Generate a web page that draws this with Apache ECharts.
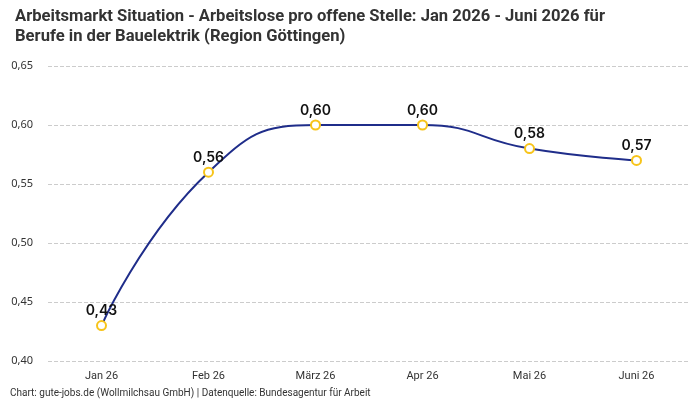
<!DOCTYPE html>
<html>
<head>
<meta charset="utf-8">
<script src="https://cdn.jsdelivr.net/npm/echarts@6/dist/echarts.min.js"></script>
<style>
  html, body { margin: 0; padding: 0; background: #fff; }
  #chart { width: 700px; height: 400px; }
</style>
</head>
<body>
<div id="chart"></div>
<script>
// Daten
const months = ['Jan 26', 'Feb 26', 'März 26', 'Apr 26', 'Mai 26', 'Juni 26']
const ratio = [0.43, 0.56, 0.60, 0.60, 0.58, 0.57]

const fmt = v => v.toFixed(2).replace('.', ',')

const myChart = echarts.init(document.getElementById('chart'))

const option = {
  backgroundColor: '#fff',
  title: {
    text: 'Arbeitsmarkt Situation - Arbeitslose pro offene Stelle: Jan 2026 - Juni 2026 für\nBerufe in der Bauelektrik (Region Göttingen)',
    left: 10,
    top: 2,
    textStyle: {
      fontFamily: 'Roboto',
      fontSize: 16.6,
      fontWeight: 'bold',
      color: '#333',
      lineHeight: 20
    }
  },
  graphic: [{
    type: 'text',
    left: 10,
    top: 388,
    style: {
      text: 'Chart: gute-jobs.de (Wollmilchsau GmbH) | Datenquelle: Bundesagentur für Arbeit',
      font: '10px "Liberation Sans Narrow", Roboto',
      fill: '#333'
    }
  }],
  grid: {
    left: 48,
    right: 10,
    top: 66,
    bottom: 39
  },
  xAxis: {
    type: 'category',
    data: months,
    axisLine: { show: false },
    axisTick: { show: false },
    axisLabel: {
      color: '#333',
      fontSize: 11,
      fontFamily: 'Roboto',
      margin: 10
    }
  },
  yAxis: {
    type: 'value',
    min: 0.40,
    max: 0.65,
    interval: 0.05,
    axisLine: { show: false },
    axisTick: { show: false },
    axisLabel: {
      color: '#333',
      fontSize: 11,
      fontFamily: 'Noto Sans',
      margin: 15,
      formatter: v => fmt(v)
    },
    splitLine: {
      lineStyle: { color: '#ccc', type: 'dashed' }
    }
  },
  series: [{
    type: 'line',
    data: ratio,
    smooth: 0.5,
    symbol: 'circle',
    symbolSize: 9,
    lineStyle: { color: '#1f2d8a', width: 2 },
    itemStyle: { color: '#fff', borderColor: '#f7c41a', borderWidth: 2 },
    label: {
      show: true,
      position: 'top',
      distance: 2,
      color: '#111',
      fontSize: 14,
      fontWeight: 600,
      fontFamily: 'Inter',
      formatter: p => fmt(p.value)
    }
  }]
}

myChart.setOption(option)
window.addEventListener('resize', () => {
  myChart.resize()
})
</script>
</body>
</html>
